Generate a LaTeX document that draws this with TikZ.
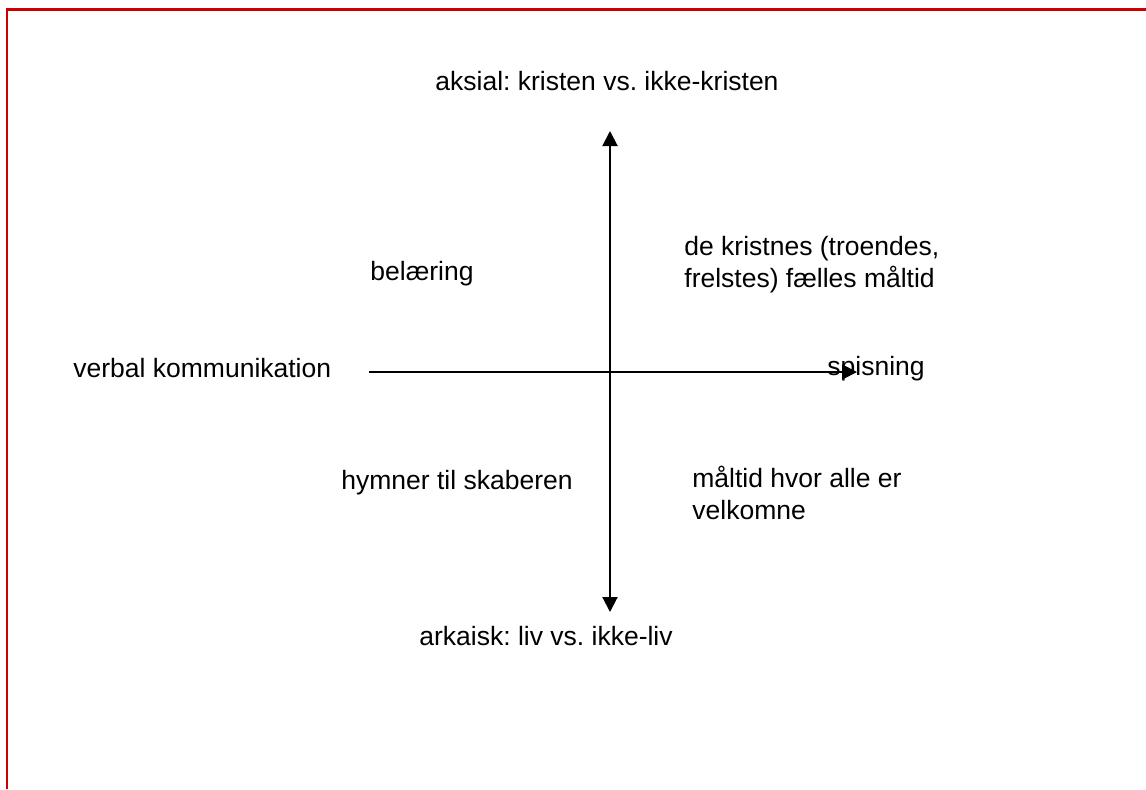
\documentclass[tikz,border=0pt]{standalone}
\usepackage{fontspec}
\setmainfont{Liberation Sans}
\usetikzlibrary{arrows.meta}
\definecolor{rim}{RGB}{204,0,0}
\frenchspacing
\begin{document}
\begin{tikzpicture}[x=0.5pt, y=-0.5pt,
  every node/.style={inner sep=0pt, font=\fontsize{13.25pt}{16pt}\selectfont},
  lbl/.style={anchor=base west},
  axis/.style={line width=1pt},
  tip/.tip={Triangle[length=7.5pt,width=7.5pt]}]
\useasboundingbox (0,0) rectangle (1146,789);
\draw[rim, line width=1.25pt] (7,789) -- (7,9.5) -- (1146,9.5);

% labels
\node[lbl] (aksial) at (435,90) {aksial: kristen vs. ikke-kristen};
\node[lbl] (arkaisk) at (419,645) {arkaisk: liv vs. ikke-liv};
\node[lbl] (verbal) at (73,377) {verbal kommunikation};
\node[lbl] (spisning) at (827,375) {spisning};
\node[lbl] (belaering) at (370,280) {belæring};
\node[lbl] (hymner) at (341,489) {hymner til skaberen};
\node[lbl, align=left] (faelles) at (684,287) {de kristnes (troendes,\\frelstes) fælles måltid};
\node[lbl, align=left] (velkomne) at (692,519) {måltid hvor alle er\\velkomne};

% axes
\coordinate (top) at (610,131);
\coordinate (bot) at (610,612);
\coordinate (west) at (369,372);
\coordinate (east) at (857,372);
\draw[axis, tip-tip] (bot) -- (top);
\draw[axis, -tip] (west) -- (east);
\end{tikzpicture}
\end{document}
